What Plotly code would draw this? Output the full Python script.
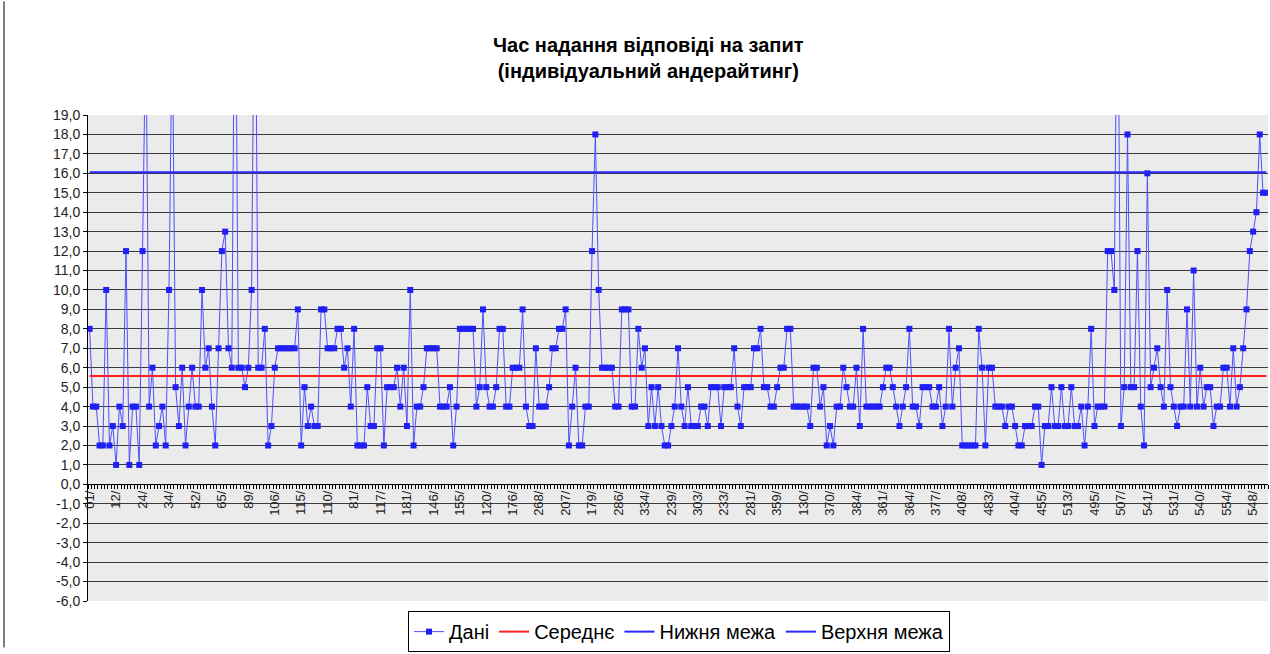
import plotly.graph_objects as go

# ---- data ----
values = [
    8, 4, 4, 2, 2, 10, 2, 3, 1, 4, 3, 12, 1, 4, 4, 1, 12, 24, 4, 6,
    2, 3, 4, 2, 10, 24, 5, 3, 6, 2, 4, 6, 4, 4, 10, 6, 7, 4, 2, 7,
    12, 13, 7, 6, 30, 6, 6, 5, 6, 10, 30, 6, 6, 8, 2, 3, 6, 7, 7, 7,
    7, 7, 7, 9, 2, 5, 3, 4, 3, 3, 9, 9, 7, 7, 7, 8, 8, 6, 7, 4,
    8, 2, 2, 2, 5, 3, 3, 7, 7, 2, 5, 5, 5, 6, 4, 6, 3, 10, 2, 4,
    4, 5, 7, 7, 7, 7, 4, 4, 4, 5, 2, 4, 8, 8, 8, 8, 8, 4, 5, 9,
    5, 4, 4, 5, 8, 8, 4, 4, 6, 6, 6, 9, 4, 3, 3, 7, 4, 4, 4, 5,
    7, 7, 8, 8, 9, 2, 4, 6, 2, 2, 4, 4, 12, 18, 10, 6, 6, 6, 6, 4,
    4, 9, 9, 9, 4, 4, 8, 6, 7, 3, 5, 3, 5, 3, 2, 2, 3, 4, 7, 4,
    3, 5, 3, 3, 3, 4, 4, 3, 5, 5, 5, 3, 5, 5, 5, 7, 4, 3, 5, 5,
    5, 7, 7, 8, 5, 5, 4, 4, 5, 6, 6, 8, 8, 4, 4, 4, 4, 4, 3, 6,
    6, 4, 5, 2, 3, 2, 4, 4, 6, 5, 4, 4, 6, 3, 8, 4, 4, 4, 4, 4,
    5, 6, 6, 5, 4, 3, 4, 5, 8, 4, 4, 3, 5, 5, 5, 4, 4, 5, 3, 4,
    8, 4, 6, 7, 2, 2, 2, 2, 2, 8, 6, 2, 6, 6, 4, 4, 4, 3, 4, 4,
    3, 2, 2, 3, 3, 3, 4, 4, 1, 3, 3, 5, 3, 3, 5, 3, 3, 5, 3, 3,
    4, 2, 4, 8, 3, 4, 4, 4, 12, 12, 10, 30, 3, 5, 18, 5, 5, 12, 4, 2,
    16, 5, 6, 7, 5, 4, 10, 5, 4, 3, 4, 4, 9, 4, 11, 4, 6, 4, 5, 5,
    3, 4, 4, 6, 6, 4, 7, 4, 5, 7, 9, 12, 13, 14, 18, 15, 15,
]
mean_value = 5.57
lower_limit = -7.0     # lies below the visible axis range
upper_limit = 16.05

tick_labels = [
    "01/", "12/", "24/", "34/", "52/", "65/", "89/", "106/", "115/", "110/",
    "81/", "117/", "181/", "146/", "155/", "120/", "176/", "268/", "207/", "179/",
    "286/", "334/", "239/", "303/", "233/", "281/", "359/", "130/", "370/", "384/",
    "361/", "364/", "377/", "408/", "483/", "404/", "455/", "513/", "495/", "507/",
    "541/", "531/", "540/", "554/", "548/",
]
label_step = 8
y_ticks = list(range(-6, 20))

# ---- figure ----
n = len(values)
x = list(range(n))
FONT = "Liberation Sans, Arial, sans-serif"

fig = go.Figure()
fig.add_trace(go.Scatter(
    x=x, y=values, mode="lines+markers", name="Дані",
    line=dict(color="#5050FF", width=1),
    marker=dict(symbol="square", size=6, color="#2020F5"),
))
fig.add_trace(go.Scatter(
    x=x, y=[mean_value] * n, mode="lines", name="Середнє",
    line=dict(color="#FF2020", width=2),
))
fig.add_trace(go.Scatter(
    x=x, y=[lower_limit] * n, mode="lines", name="Нижня межа",
    line=dict(color="#2828FF", width=2),
))
fig.add_trace(go.Scatter(
    x=x, y=[upper_limit] * n, mode="lines", name="Верхня межа",
    line=dict(color="#2828FF", width=2),
))

ymin, ymax = y_ticks[0], y_ticks[-1]
plot_top, plot_bottom, plot_left, plot_right = 115, 607, 88, 1268
plot_h = plot_bottom - plot_top
plot_w = plot_right - plot_left

fig.update_layout(
    width=1270, height=654,
    margin=dict(l=plot_left, r=1270 - plot_right, t=plot_top, b=654 - plot_bottom),
    paper_bgcolor="white",
    plot_bgcolor="#EBEBEB",
    font=dict(family=FONT, color="#222222"),
    showlegend=True,
    legend=dict(
        orientation="h", x=(679 - plot_left) / plot_w, xanchor="center",
        y=(plot_bottom - 638) / plot_h, yanchor="middle",
        bgcolor="white", bordercolor="black", borderwidth=1,
        font=dict(size=20, family=FONT, color="black"),
        itemwidth=30,
    ),
    xaxis=dict(
        range=[-0.5, n - 0.5],
        anchor="free", position=(0 - ymin) / (ymax - ymin),
        tickmode="array", tickvals=x[::label_step], ticktext=tick_labels,
        tickangle=-90, ticks="", showgrid=False, zeroline=False,
        showline=True, linecolor="black", linewidth=1,
        tickfont=dict(size=13, family=FONT, color="#222222"),
        minor=dict(ticks="outside", ticklen=4, tickcolor="black",
                   dtick=1, tick0=0.5, showgrid=False),
    ),
    yaxis=dict(
        range=[ymin, ymax],
        tickmode="array", tickvals=y_ticks,
        ticktext=[f"{v:.1f}".replace(".", ",") for v in y_ticks],
        showgrid=True, gridcolor="#3C3C3C", gridwidth=1,
        zeroline=False, showline=True, linecolor="black", linewidth=1,
        ticks="outside", ticklen=4, tickcolor="black",
        tickfont=dict(size=14, family=FONT, color="#222222"),
    ),
    annotations=[dict(
        text="<b>Час надання відповіді на запит</b><br><b>(індивідуальний андерайтинг)</b>",
        x=(648 - plot_left) / plot_w, y=(plot_bottom - 57) / plot_h,
        xref="paper", yref="paper", xanchor="center", yanchor="middle",
        showarrow=False, font=dict(size=20, family=FONT, color="black"),
    )],
    shapes=[dict(
        type="line", xref="paper", yref="paper",
        x0=(4 - plot_left) / plot_w, x1=(4 - plot_left) / plot_w,
        y0=-(654 - plot_bottom) / plot_h, y1=1 + plot_top / plot_h,
        line=dict(color="black", width=1),
    )],
)

fig.write_html("out.html", config={"displayModeBar": False},
               post_script="document.body.style.margin='0';")
